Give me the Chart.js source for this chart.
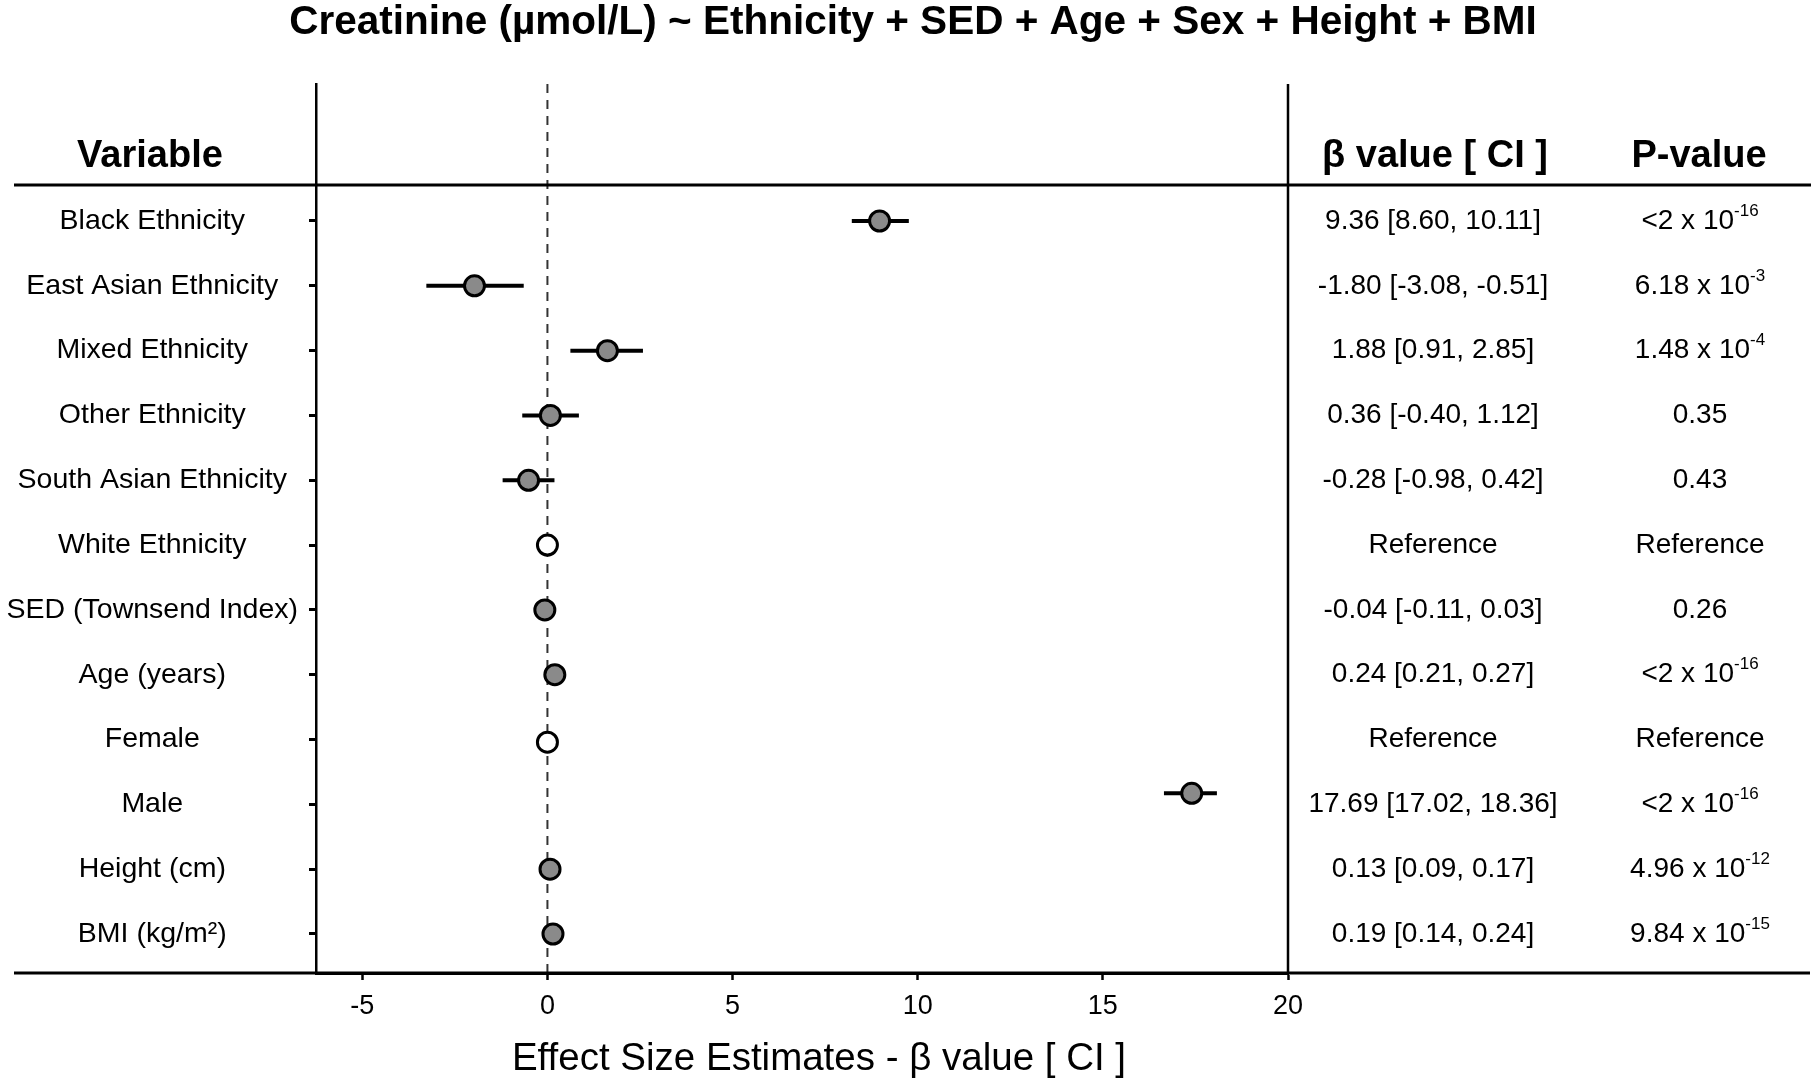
<!DOCTYPE html>
<html>
<head>
<meta charset="utf-8">
<script src="https://cdn.jsdelivr.net/npm/chart.js@4.4.1/dist/chart.umd.min.js"></script>
<style>
html,body{margin:0;padding:0;background:#fff;}
#wrap{width:1814px;height:1083px;}
</style>
</head>
<body>
<div id="wrap"><canvas id="c" width="1814" height="1083"></canvas></div>
<script>
// ---- data ----
const categories = ["Black Ethnicity","East Asian Ethnicity","Mixed Ethnicity","Other Ethnicity","South Asian Ethnicity","White Ethnicity","SED (Townsend Index)","Age (years)","Female","Male","Height (cm)","BMI (kg/m²)"];
// plotted positions
const estimates = [8.97, -1.97, 1.62, 0.08, -0.51, 0, -0.07, 0.2, 0, 17.4, 0.07, 0.15];
const ciLow     = [8.22, -3.27, 0.62, -0.68, -1.21, 0, -0.14, 0.17, 0, 16.65, 0.03, 0.10];
const ciHigh    = [9.76, -0.64, 2.58, 0.85, 0.19, 0, 0.0, 0.23, 0, 18.08, 0.11, 0.20];
const isReference = [false,false,false,false,false,true,false,false,true,false,false,false];
const rowPos = [0,1,2,3,4,5,6,7,8.04,8.83,10,11];
const betaText = ["9.36 [8.60, 10.11]","-1.80 [-3.08, -0.51]","1.88 [0.91, 2.85]","0.36 [-0.40, 1.12]","-0.28 [-0.98, 0.42]","Reference","-0.04 [-0.11, 0.03]","0.24 [0.21, 0.27]","Reference","17.69 [17.02, 18.36]","0.13 [0.09, 0.17]","0.19 [0.14, 0.24]"];
const pText = ["<2 x 10^-16","6.18 x 10^-3","1.48 x 10^-4","0.35","0.43","Reference","0.26","<2 x 10^-16","Reference","<2 x 10^-16","4.96 x 10^-12","9.84 x 10^-15"];
const xTickValues = [-5, 0, 5, 10, 15, 20];
const xMin = -6.25, xMax = 20;
const titleText = "Creatinine (µmol/L) ~ Ethnicity + SED + Age + Sex + Height + BMI";
const headerVariable = "Variable";
const headerBeta = "β value [ CI ]";
const headerP = "P-value";
const xAxisTitle = "Effect Size Estimates - β value [ CI ]";

const FONT = "'Liberation Sans', Arial, Helvetica, sans-serif";

const decorPlugin = {
  id: 'decor',
  beforeDatasetsDraw(chart) {
    const ctx = chart.ctx, xs = chart.scales.x, ys = chart.scales.y, a = chart.chartArea;
    ctx.save();
    // zero dashed line
    const x0 = xs.getPixelForValue(0);
    ctx.strokeStyle = '#333';
    ctx.lineWidth = 2;
    ctx.setLineDash([9, 7]);
    ctx.beginPath(); ctx.moveTo(x0, a.top); ctx.lineTo(x0, a.bottom); ctx.stroke();
    ctx.setLineDash([]);
    // right border at xMax
    const xr = xs.getPixelForValue(xMax);
    ctx.strokeStyle = '#000'; ctx.lineWidth = 2.5;
    ctx.beginPath(); ctx.moveTo(xr, a.top); ctx.lineTo(xr, a.bottom); ctx.stroke();
    // header line and bottom line across full width
    ctx.lineWidth = 3;
    ctx.beginPath(); ctx.moveTo(14, 185); ctx.lineTo(1811, 185); ctx.stroke();
    ctx.beginPath(); ctx.moveTo(14, a.bottom); ctx.lineTo(1810, a.bottom); ctx.stroke();
    // error bars
    ctx.lineWidth = 4; ctx.lineCap = 'butt';
    for (let i = 0; i < categories.length; i++) {
      if (ciLow[i] === ciHigh[i]) continue;
      const y = ys.getPixelForValue(rowPos[i]);
      ctx.beginPath();
      ctx.moveTo(xs.getPixelForValue(ciLow[i]), y);
      ctx.lineTo(xs.getPixelForValue(ciHigh[i]), y);
      ctx.stroke();
    }
    ctx.restore();
  },
  afterDraw(chart) {
    const ctx = chart.ctx, ys = chart.scales.y;
    ctx.save();
    ctx.fillStyle = '#000';
    ctx.textBaseline = 'middle';
    ctx.textAlign = 'center';
    // title
    ctx.font = "bold 40.5px " + FONT;
    ctx.fillText(titleText, 913, 23);
    // headers
    ctx.font = "bold 38px " + FONT;
    ctx.fillText(headerVariable, 150, 157);
    ctx.fillText(headerBeta, 1435, 157);
    ctx.fillText(headerP, 1699, 157);
    // x-axis title
    ctx.font = "38.5px " + FONT;
    ctx.fillText(xAxisTitle, 819, 1059);
    // table values
    const bodyFont = "28px " + FONT, supFont = "17px " + FONT;
    for (let i = 0; i < categories.length; i++) {
      const y = ys.getPixelForValue(i);
      ctx.font = bodyFont;
      ctx.textAlign = 'center';
      ctx.fillText(betaText[i], 1433, y);
      const parts = pText[i].split('^');
      if (parts.length === 1) {
        ctx.fillText(parts[0], 1700, y);
      } else {
        ctx.font = bodyFont;
        const w1 = ctx.measureText(parts[0]).width;
        ctx.font = supFont;
        const w2 = ctx.measureText(parts[1]).width;
        const start = 1700 - (w1 + w2) / 2;
        ctx.textAlign = 'left';
        ctx.font = bodyFont;
        ctx.fillText(parts[0], start, y);
        ctx.font = supFont;
        ctx.fillText(parts[1], start + w1, y - 10);
      }
    }
    ctx.restore();
  }
};

const chart = new Chart(document.getElementById('c'), {
  type: 'scatter',
  data: {
    datasets: [{
      data: estimates.map((v, i) => ({ x: v, y: rowPos[i] })),
      pointRadius: 10,
      pointHoverRadius: 10,
      pointBorderWidth: 3,
      pointBorderColor: '#000',
      pointBackgroundColor: isReference.map(r => r ? '#ffffff' : '#8a8a8a'),
      showLine: false
    }]
  },
  options: {
    responsive: false,
    devicePixelRatio: 1,
    animation: false,
    events: [],
    layout: { padding: { left: 0, top: 84, right: 526, bottom: 0 } },
    plugins: { legend: { display: false }, tooltip: { enabled: false }, title: { display: false } },
    scales: {
      x: {
        type: 'linear',
        min: xMin, max: xMax,
        afterBuildTicks: s => { s.ticks = xTickValues.map(v => ({ value: v })); },
        afterFit: s => { s.height = 110; },
        grid: { drawOnChartArea: false, drawTicks: true, tickLength: 7, tickWidth: 2.5, tickColor: '#000' },
        border: { display: true, color: '#000', width: 3 },
        ticks: { color: '#000', font: { family: FONT, size: 27 }, padding: 10, maxRotation: 0, autoSkip: false },
        title: { display: false }
      },
      y: {
        type: 'linear',
        reverse: true,
        min: -2.1136, max: 11.6017,
        afterBuildTicks: s => { s.ticks = categories.map((c, i) => ({ value: i })); },
        afterFit: s => { s.width = 316; },
        grid: { drawOnChartArea: false, drawTicks: true, tickLength: 7, tickWidth: 3, tickColor: '#000' },
        border: { display: true, color: '#000', width: 2.5 },
        ticks: {
          color: '#000', font: { family: FONT, size: 28.5 }, padding: 11, autoSkip: false,
          crossAlign: 'center',
          callback: v => categories[v]
        }
      }
    }
  },
  plugins: [decorPlugin]
});
</script>
</body>
</html>
